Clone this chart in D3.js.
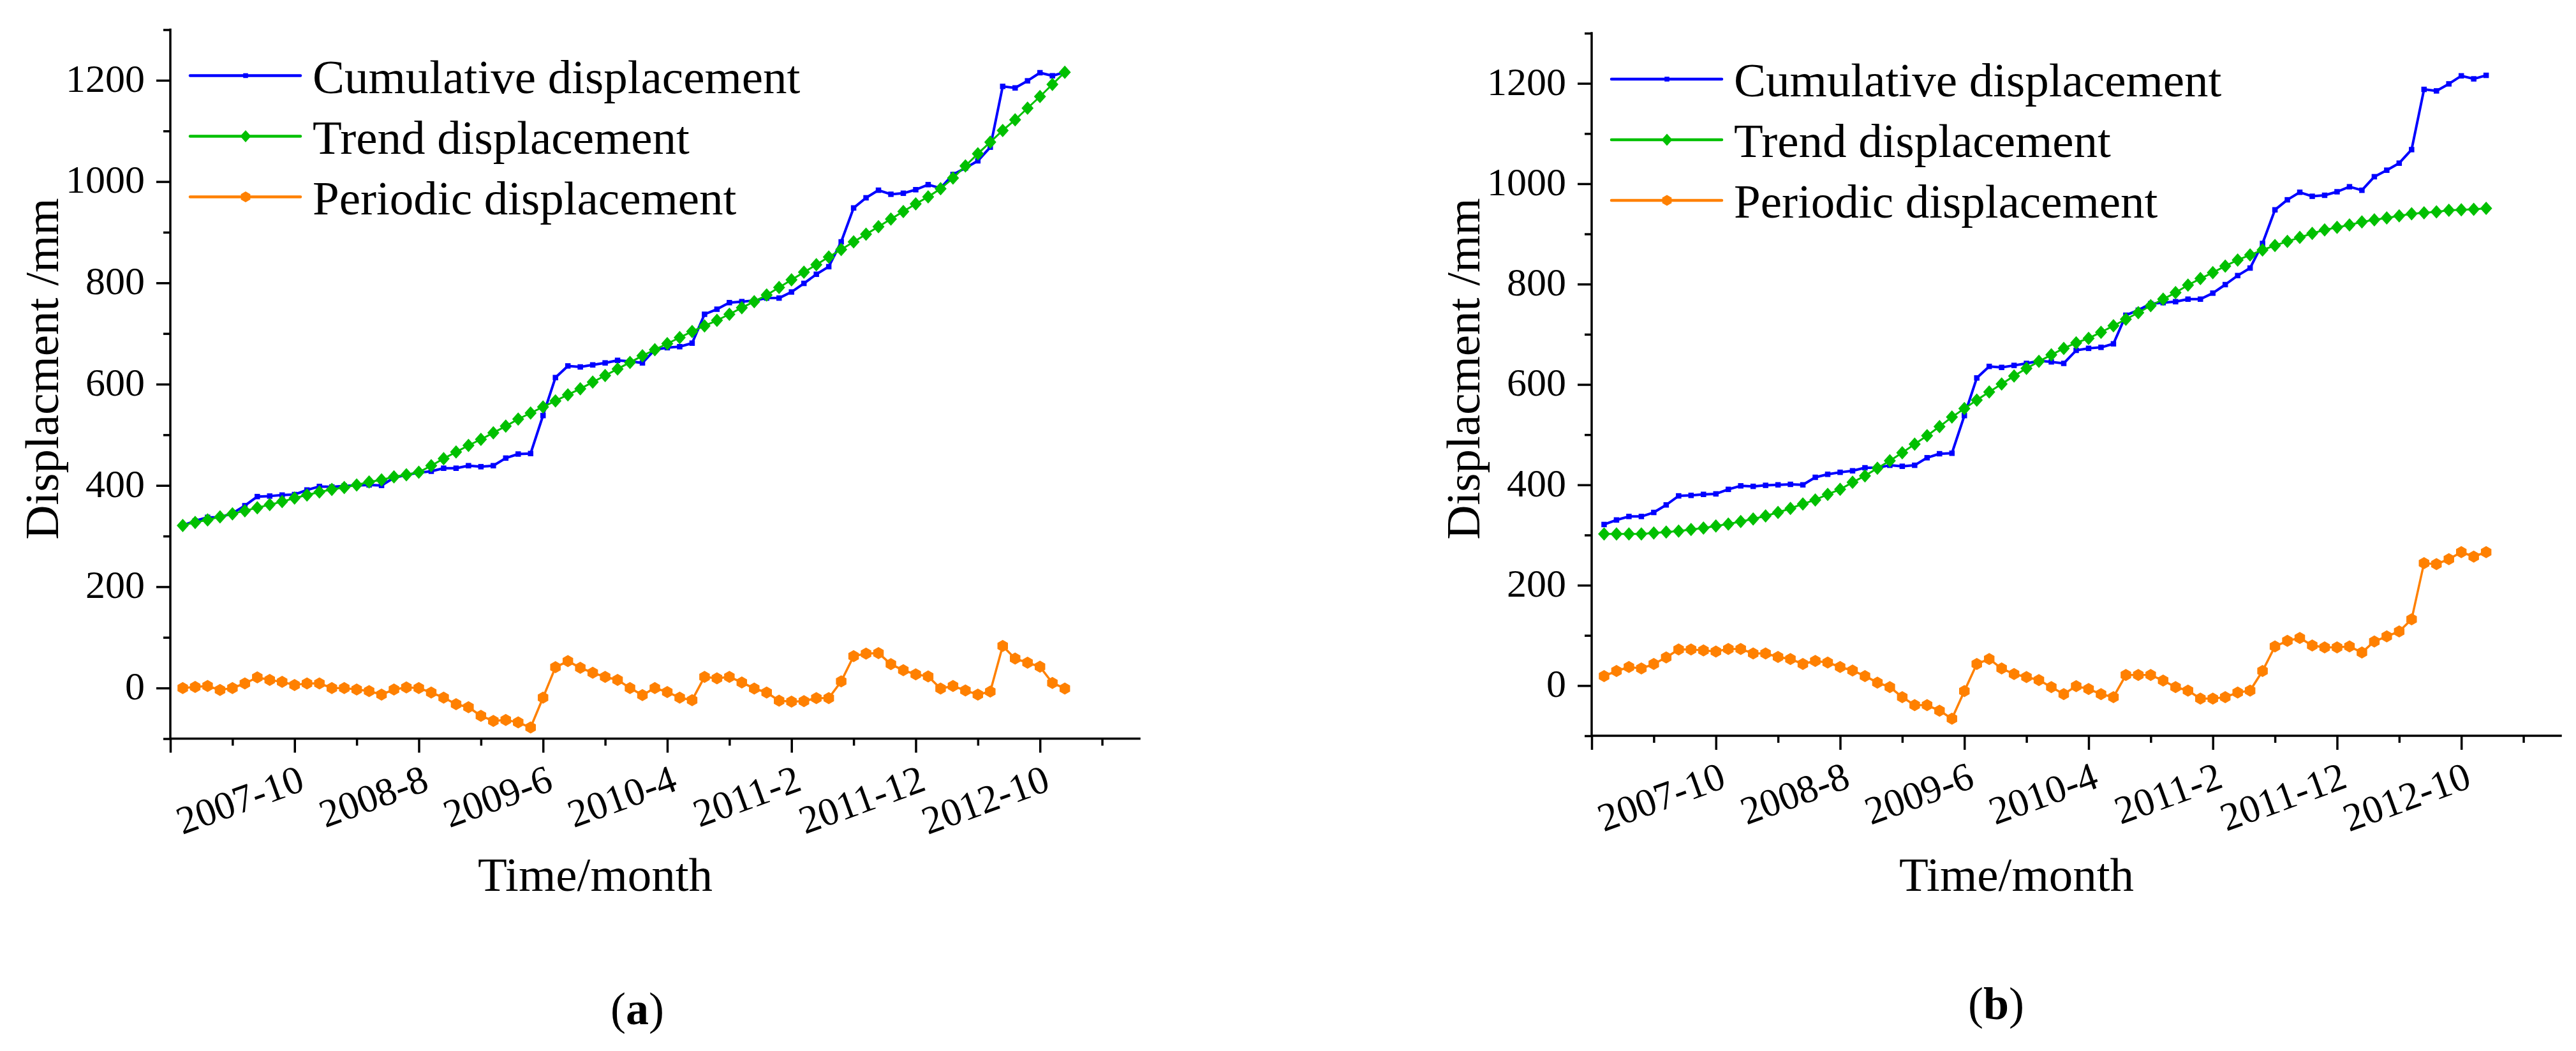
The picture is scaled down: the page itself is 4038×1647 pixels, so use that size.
<!DOCTYPE html>
<html>
<head>
<meta charset="utf-8">
<script src="https://cdn.jsdelivr.net/npm/d3@7"></script>
<style>
body { margin: 0; background: #fff; }
svg { display: block; }
svg text { font-family: "Liberation Serif", Tinos, "Times New Roman", "DejaVu Serif", serif; }
</style>
</head>
<body>
<script>
// month index, 0 = 2006-12, data runs 2007-1 .. 2012-12
var months = d3.range(1, 73);

var tickMonths = [10, 20, 30, 40, 50, 60, 70];
var tickLabels = ['2007-10', '2008-8', '2009-6', '2010-4', '2011-2', '2011-12', '2012-10'];
var yMajor = [0, 200, 400, 600, 800, 1000, 1200];
var yMinor = [-100, 100, 300, 500, 700, 900, 1100, 1300];
var xMinor = [5, 15, 25, 35, 45, 55, 65, 75];

var seriesNames = ['Cumulative displacement', 'Trend displacement', 'Periodic displacement'];

// measured (same in both panels)
var cumulative = [321, 330, 337, 337, 345, 360, 378, 379, 381, 382,
	391, 398, 397, 399, 400, 401, 400, 415, 421, 425,
	428, 434, 434, 439, 437, 439, 454, 462, 463, 538,
	613, 636, 634, 638, 642, 647, 645, 642, 668, 672,
	674, 681, 738, 748, 761, 763, 765, 770, 770, 782,
	799, 817, 832, 881, 948, 968, 983, 975, 977, 984,
	994, 987, 1014, 1027, 1041, 1068, 1188, 1185, 1199, 1215,
	1209, 1216];

// (a)
var trendA = [321, 327, 332, 338, 344, 350, 356, 362, 368, 375,
	381, 387, 392, 396, 401, 407, 411, 417, 421, 426,
	439, 453, 466, 479, 491, 504, 517, 531, 543, 555,
	567, 579, 591, 604, 617, 630, 643, 656, 668, 680,
	692, 704, 715, 726, 738, 751, 763, 776, 791, 806,
	821, 836, 851, 866, 881, 896, 911, 926, 941, 956,
	970, 986, 1007, 1031, 1055, 1078, 1101, 1122, 1145, 1168,
	1192, 1216];
var periodicA = [0, 2, 4, -4, 0, 9, 21, 16, 12, 6,
	9, 9, 0, 0, -3, -6, -13, -3, 1, 0,
	-9, -19, -32, -38, -55, -65, -63, -68, -78, -19,
	41, 53, 40, 30, 22, 16, 0, -14, 0, -8,
	-19, -24, 22, 19, 22, 11, -1, -9, -25, -27,
	-26, -20, -20, 13, 63, 68, 69, 47, 35, 27,
	23, -1, 4, -5, -13, -7, 83, 58, 50, 42,
	10, -1];

// (b)
var trendB = [302, 302, 302, 302, 304, 306, 308, 311, 314, 318,
	322, 327, 332, 338, 345, 353, 362, 370, 381, 391,
	405, 418, 433, 448, 464, 481, 498, 516, 535, 552,
	569, 585, 601, 617, 632, 646, 659, 672, 683, 692,
	704, 717, 730, 743, 757, 770, 783, 798, 811, 823,
	836, 848, 858, 868, 877, 885, 893, 901, 908, 913,
	918, 924, 928, 932, 936, 940, 942, 944, 947, 948,
	949, 951];
var periodicB = [19, 29, 37, 34, 43, 56, 72, 72, 70, 68,
	73, 73, 64, 64, 57, 53, 43, 49, 46, 37,
	30, 19, 6, -3, -23, -39, -39, -50, -66, -11,
	43, 53, 34, 23, 17, 11, -3, -17, -1, -7,
	-17, -23, 21, 21, 21, 10, -3, -10, -26, -26,
	-23, -14, -10, 29, 78, 89, 95, 80, 76, 76,
	78, 66, 88, 98, 108, 132, 244, 242, 252, 266,
	257, 266];

var colors = ['#0000ff', '#00c000', '#ff8000'];
var serif = '"Liberation Serif", Tinos, "Times New Roman", "DejaVu Serif", serif';
var font = 62;

var svg = d3.select('body').append('svg')
	.attr('width', 4038)
	.attr('height', 1647)
	.attr('font-family', serif);

svg.append('rect').attr('width', 4038).attr('height', 1647).attr('fill', '#fff');

// marker shapes: 0 square, 1 diamond, 2 hexagon
function marker(sel, type, s) {
	if (type == 0) {
		sel.append('rect').attr('x', -s / 2).attr('y', -s / 2).attr('width', s).attr('height', s);
	} else if (type == 1) {
		var w = s * 0.9, h = s;
		sel.append('path').attr('d', 'M0,' + (-h) + 'L' + w + ',0L0,' + h + 'L' + (-w) + ',0Z');
	} else {
		var pts = d3.range(6).map(k => {
			var a = Math.PI / 3 * k - Math.PI / 2;
			return [s * Math.cos(a), s * Math.sin(a)];
		});
		sel.append('path').attr('d', 'M' + pts.join('L') + 'Z');
	}
}

function drawPanel(x0, yBot, yTop, trend, periodic, label) {
	var x = d3.scaleLinear().domain([0, 78]).range([x0, x0 + 1519]);
	var y = d3.scaleLinear().domain([-100, 1300]).range([yBot, yTop]);
	var g = svg.append('g');

	// ticks
	g.append('g').attr('transform', 'translate(0,' + yBot + ')')
		.call(d3.axisBottom(x).tickValues(xMinor).tickSize(11).tickFormat(''))
		.call(a => a.select('.domain').remove());
	var xa = g.append('g').attr('transform', 'translate(0,' + yBot + ')')
		.call(d3.axisBottom(x).tickValues([0].concat(tickMonths)).tickSize(22)
			.tickFormat(d => d == 0 ? '' : tickLabels[tickMonths.indexOf(d)]))
		.call(a => a.select('.domain').remove());
	xa.selectAll('text')
		.attr('x', 0).attr('y', 0).attr('dy', 0)
		.attr('text-anchor', 'end')
		.attr('transform', 'translate(18,80) rotate(-20)');

	g.append('g').attr('transform', 'translate(' + x0 + ',0)')
		.call(d3.axisLeft(y).tickValues(yMinor).tickSize(11).tickFormat(''))
		.call(a => a.select('.domain').remove());
	var ya = g.append('g').attr('transform', 'translate(' + x0 + ',0)')
		.call(d3.axisLeft(y).tickValues(yMajor).tickSize(22).tickPadding(18).tickFormat(d3.format('d')))
		.call(a => a.select('.domain').remove());
	ya.selectAll('text').attr('dy', '0.28em');

	g.selectAll('g').attr('font-family', serif);
	g.selectAll('.tick line').attr('stroke', '#000').attr('stroke-width', 3.5);
	g.selectAll('.tick text').attr('font-size', font).attr('fill', '#000');

	// axis lines
	g.append('path')
		.attr('d', 'M' + x0 + ',' + yTop + 'V' + yBot + 'H' + (x0 + 1519))
		.attr('fill', 'none').attr('stroke', '#000').attr('stroke-width', 3.5)
		.attr('stroke-linecap', 'square');

	// titles
	g.append('text')
		.attr('transform', 'translate(' + (x0 - 176) + ',578) rotate(-90)')
		.attr('text-anchor', 'middle').attr('font-size', 75)
		.text('Displacment /mm');
	g.append('text')
		.attr('x', x0 + 666).attr('y', 1396)
		.attr('text-anchor', 'middle').attr('font-size', 75)
		.text('Time/month');
	var pl = g.append('text')
		.attr('x', label.x).attr('y', label.y)
		.attr('text-anchor', 'middle').attr('font-size', 72);
	pl.append('tspan').text('(');
	pl.append('tspan').attr('font-weight', 'bold').text(label.t);
	pl.append('tspan').text(')');

	// series
	var series = [cumulative, trend, periodic];
	var widths = [4, 3, 3.5];
	var sizes = [8.5, 10.5, 9.5];
	series.forEach((vals, si) => {
		var line = d3.line().x((d, i) => x(months[i])).y(d => y(d));
		g.append('path').datum(vals)
			.attr('d', line)
			.attr('fill', 'none')
			.attr('stroke', colors[si])
			.attr('stroke-width', widths[si])
			.attr('stroke-linejoin', 'round');
		g.selectAll('g.m' + si)
			.data(vals)
			.enter().append('g')
				.attr('class', 'm' + si)
				.attr('fill', colors[si])
				.attr('transform', (d, i) => 'translate(' + x(months[i]) + ',' + y(d) + ')')
				.each(function () { marker(d3.select(this), si, sizes[si]); });
	});

	// legend
	var ly = yTop + 72;
	seriesNames.forEach((name, si) => {
		var yy = ly + si * 95;
		g.append('line')
			.attr('x1', x0 + 31).attr('x2', x0 + 204)
			.attr('y1', yy).attr('y2', yy)
			.attr('stroke', colors[si]).attr('stroke-width', 4.5)
			.attr('stroke-linecap', 'round');
		var mg = g.append('g').attr('fill', colors[si])
			.attr('transform', 'translate(' + (x0 + 118) + ',' + yy + ')');
		marker(mg, si, [7.5, 9.5, 8.5][si]);
		g.append('text')
			.attr('x', x0 + 223).attr('y', yy + 27)
			.attr('font-size', 75)
			.text(name);
	});
}

drawPanel(267, 1157.5, 46.5, trendA, periodicA, {x: 999, y: 1605, t: 'a'});
drawPanel(2495, 1153, 52, trendB, periodicB, {x: 3129, y: 1597, t: 'b'});
</script>
</body>
</html>
